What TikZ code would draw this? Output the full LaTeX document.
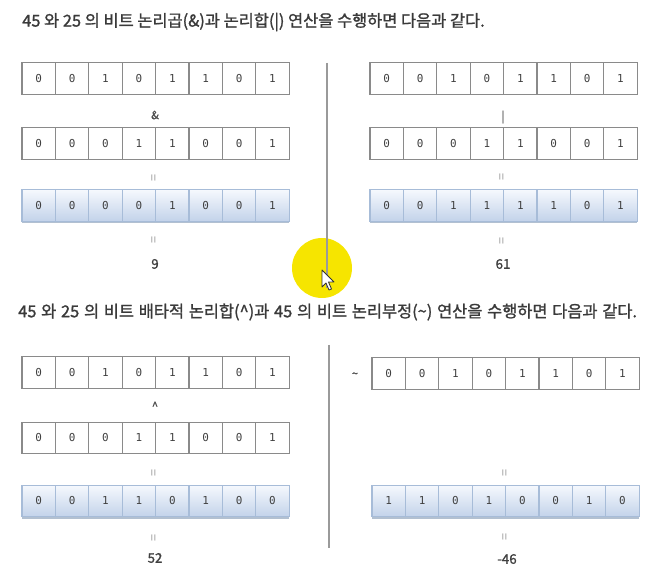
\documentclass[tikz,border=0pt]{standalone}
\usepackage{fontspec}
\newfontfamily\krfont{Noto Sans CJK KR}
\newfontfamily\krbold[FakeBold=1.3]{Noto Sans CJK KR}
\newfontfamily\bitfont{DejaVu Sans Mono}
\usetikzlibrary{shadows}
\definecolor{titlegray}{HTML}{3A3A3A}
\definecolor{cellline}{HTML}{8A8A8A}
\definecolor{signgray}{HTML}{9A9A9A}
\definecolor{bluetop}{HTML}{F5F8FD}
\definecolor{bluebot}{HTML}{C3D3EA}
\definecolor{blueline}{HTML}{A7BCD8}
\definecolor{cursoryellow}{HTML}{F6E500}

% one row of 8 bit cells: name, left edge, centre y, bits, style
\newcommand{\bitrow}[5]{%
  \foreach \b [count=\i] in {#4}
    \node[#5] (#1\i) at ({#2+(\i-0.5)*33.4},#3) {\b};}

\begin{document}
\begin{tikzpicture}[x=0.75pt,y=-0.75pt,
      title/.style={anchor=west, inner sep=0pt, font=\krbold\fontsize{12.3}{14}\selectfont,
                    text=titlegray},
      cell/.style={draw=cellline, fill=white, line width=0.8pt, inner sep=0pt, outer sep=0pt,
                   minimum width=25.05pt, minimum height=23.4pt,
                   font=\bitfont\fontsize{8.2}{9}\selectfont, text=black!75},
      rescell/.style={cell, draw=blueline, top color=bluetop, bottom color=bluebot,
                      drop shadow={shadow xshift=0pt, shadow yshift=-1.6pt,
                                   fill=blueline!80!gray, opacity=0.8}},
      op/.style={inner sep=0pt, font=\krbold\fontsize{8.5}{9}\selectfont, text=black!70},
      eq/.style={op, rotate=90, text=signgray, font=\krfont\fontsize{9.5}{10}\selectfont},
      result/.style={inner sep=0pt, font=\krbold\fontsize{10}{11}\selectfont, text=black!75},
      divider/.style={draw=signgray, line width=1.2pt}
    ]
    \useasboundingbox (0,0) rectangle (646,573);

    % Titles
    \node[title] (titleA) at (22,22)
      {45 와 25 의 비트 논리곱(\&)과 논리합(|) 연산을 수행하면 다음과 같다.};
    \node[title] (titleB) at (18,312)
      {\spaceskip=0.29em 45 와 25 의 비트 배타적 논리합(\^{})과 45 의 비트 논리부정(\textasciitilde) 연산을 수행하면 다음과 같다.};

    % AND
    \bitrow{andA}{22}{78.5}{0,0,1,0,1,1,0,1}{cell}
    \node[op] (andop) at (155,115) {\&};
    \bitrow{andB}{22}{143.5}{0,0,0,1,1,0,0,1}{cell}
    \node[eq] (andeqA) at (155,178) {=};
    \bitrow{andR}{22}{205.5}{0,0,0,0,1,0,0,1}{rescell}
    \node[eq] (andeqB) at (155,240) {=};
    \node[result] (andval) at (155,264) {9};

    % OR
    \bitrow{orA}{370}{78.5}{0,0,1,0,1,1,0,1}{cell}
    \node[op] (orop) at (503,117) {|};
    \bitrow{orB}{370}{143.5}{0,0,0,1,1,0,0,1}{cell}
    \node[eq] (oreqA) at (503,177) {=};
    \bitrow{orR}{370}{205.5}{0,0,1,1,1,1,0,1}{rescell}
    \node[eq] (oreqB) at (503,241) {=};
    \node[result] (orval) at (503,264) {61};

    % XOR
    \bitrow{xorA}{22}{372.5}{0,0,1,0,1,1,0,1}{cell}
    \node[op] (xorop) at (155,406) {\^{}};
    \bitrow{xorB}{22}{438}{0,0,0,1,1,0,0,1}{cell}
    \node[eq] (xoreqA) at (155,473) {=};
    \bitrow{xorR}{22}{501}{0,0,1,1,0,1,0,0}{rescell}
    \node[eq] (xoreqB) at (155,538) {=};
    \node[result] (xorval) at (155,558) {52};

    % NOT
    \node[op] (notop) at (355,375) {\textasciitilde};
    \bitrow{notA}{372}{373.5}{0,0,1,0,1,1,0,1}{cell}
    \node[eq] (noteqA) at (506,473) {=};
    \bitrow{notR}{372}{501}{1,1,0,1,0,0,1,0}{rescell}
    \node[eq] (noteqB) at (506,537) {=};
    \node[result] (notval) at (507,559) {-46};

    % Cursor highlight
    \fill[cursoryellow] (322,268) circle (30);

    % Dividers
    \coordinate (divAtop) at (327,63);
    \coordinate (divAbot) at (327,288);
    \coordinate (divBtop) at (329,345);
    \coordinate (divBbot) at (329,548);
    \draw[divider] (divAtop) -- (divAbot);
    \draw[divider] (divBtop) -- (divBbot);

    % Cursor
    \draw[fill=white, draw=black!80, line width=0.6pt, line join=round]
      (322,270) -- ++(0,17) -- ++(4,-4) -- ++(3,7) -- ++(2.5,-1) -- ++(-3,-7) -- ++(5.5,0) -- cycle;

  \end{tikzpicture}
\end{document}
